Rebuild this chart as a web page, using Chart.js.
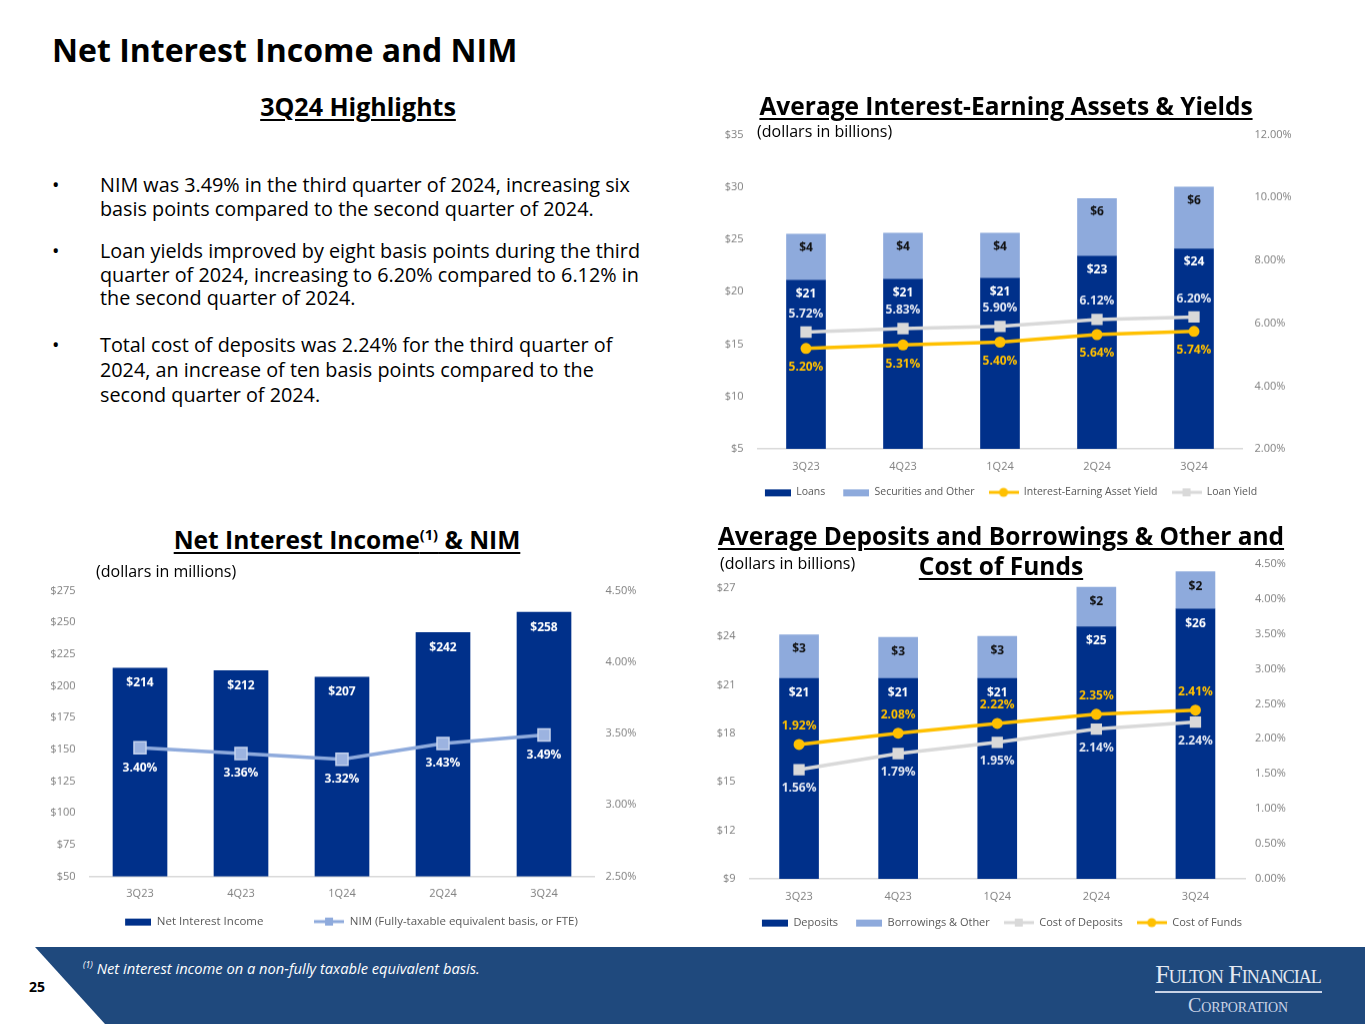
<!DOCTYPE html>
<html>
<head>
<meta charset="utf-8">
<title>Net Interest Income and NIM</title>
<script src="https://cdn.jsdelivr.net/npm/chart.js@4.4.1/dist/chart.umd.min.js"></script>
<style>
  body { margin: 0; width: 1365px; height: 1024px; position: relative; overflow: hidden; background: #fff; font-family: "Open Sans", sans-serif; color: #000; }
  .abs { position: absolute; white-space: nowrap; }
  .box { position: absolute; }
  .head { font-weight: 700; font-size: 24.5px; line-height: 30px; text-decoration: underline; text-underline-offset: 3px; text-decoration-thickness: 2px; transform: translateX(-50%); text-align: center; z-index: 2; }
  .unit { font-size: 16px; line-height: 20px; z-index: 2; }
  .bullet { font-size: 19.8px; line-height: 23.5px; }
  .dot { position: absolute; left: -48px; top: 0; }
  sup { font-size: 60%; line-height: 0; }
</style>
</head>
<body>

<div class="abs" style="left:52px; top:30px; font-size:32px; font-weight:700; line-height:40px;">Net Interest Income and NIM</div>

<div class="abs head" style="left:358px; top:91px; font-size:25px;">3Q24 Highlights</div>

<div class="abs bullet" style="left:100px; top:173px;"><span class="dot">•</span>NIM was 3.49% in the third quarter of 2024, increasing six<br>basis points compared to the second quarter of 2024.</div>
<div class="abs bullet" style="left:100px; top:239px;"><span class="dot">•</span>Loan yields improved by eight basis points during the third<br>quarter of 2024, increasing to 6.20% compared to 6.12% in<br>the second quarter of 2024.</div>
<div class="abs bullet" style="left:100px; top:332px; line-height:25px;"><span class="dot">•</span>Total cost of deposits was 2.24% for the third quarter of<br>2024, an increase of ten basis points compared to the<br>second quarter of 2024.</div>

<div class="abs head" style="left:1006px; top:91px;">Average Interest-Earning Assets &amp; Yields</div>
<div class="abs unit" style="left:757px; top:121px;">(dollars in billions)</div>

<div class="abs head" style="left:347px; top:525px;">Net Interest Income<sup>(1)</sup> &amp; NIM</div>
<div class="abs unit" style="left:96px; top:561px;">(dollars in millions)</div>

<div class="abs head" style="left:1001px; top:521px;">Average Deposits and Borrowings &amp; Other and<br>Cost of Funds</div>
<div class="abs unit" style="left:720px; top:553px;">(dollars in billions)</div>

<div class="box" style="left:700px; top:114.4px; width:600px; height:397.6px;"><canvas id="assetsChart"></canvas></div>
<div class="box" style="left:30px; top:570.4px; width:620px; height:369.6px;"><canvas id="niiChart"></canvas></div>
<div class="box" style="left:700px; top:543.4px; width:600px; height:398.6px;"><canvas id="depositsChart"></canvas></div>

<div class="box" style="left:0; top:947px; width:1365px; height:77px; background:#1f497d; clip-path: polygon(35px 0, 100% 0, 100% 100%, 105px 100%);"></div>
<div class="abs" style="left:29px; top:977px; font-size:14px; font-weight:700; line-height:20px;">25</div>
<div class="abs" style="left:83px; top:958px; font-size:14.7px; font-style:italic; color:#fff; line-height:20px;"><sup>(1)</sup> Net interest income on a non-fully taxable equivalent basis.</div>
<div class="abs" style="left:1238px; top:959px; transform:translateX(-50%); font-family:'Liberation Serif', serif; font-variant:small-caps; font-size:26px; line-height:32px; color:#e4e9f2; letter-spacing:-1px;">Fulton Financial</div>
<div class="box" style="left:1155px; top:991px; width:167px; height:2px; background:#c9d3e6;"></div>
<div class="abs" style="left:1238px; top:994px; transform:translateX(-50%); font-family:'Liberation Serif', serif; font-variant:small-caps; font-size:20px; line-height:22px; color:#c9d3e6; letter-spacing:-0.2px;">Corporation</div>

<script>
  // Quarters shown on every chart
  const quarters = ["3Q23", "4Q23", "1Q24", "2Q24", "3Q24"];

  // Average interest-earning assets ($ billions) and yields (%)
  const loans = [21.1, 21.2, 21.3, 23.4, 24.1];
  const securities = [4.4, 4.4, 4.3, 5.5, 5.9];
  const assetYield = [5.2, 5.31, 5.4, 5.64, 5.74];
  const loanYield = [5.72, 5.83, 5.9, 6.12, 6.2];

  // Net interest income ($ millions) and NIM (%)
  const netInterestIncome = [214, 212, 207, 242, 258];
  const nim = [3.4, 3.36, 3.32, 3.43, 3.49];

  // Average deposits and borrowings ($ billions) and cost of funds (%)
  const deposits = [21.4, 21.4, 21.4, 24.6, 25.7];
  const borrowings = [2.7, 2.55, 2.6, 2.45, 2.3];
  const costOfDeposits = [1.56, 1.79, 1.95, 2.14, 2.24];
  const costOfFunds = [1.92, 2.08, 2.22, 2.35, 2.41];

  // Axis ranges [min, max, step]
  const assetsAxis = [5, 35, 5];
  const assetsRateAxis = [2, 12, 2];
  const niiAxis = [50, 275, 25];
  const nimAxis = [2.5, 4.5, 0.5];
  const depositsAxis = [9, 28.5, 3];
  const fundsRateAxis = [0, 4.5, 0.5];

  const NAVY = "#00308a";
  const LIGHT_BLUE = "#8eaadc";
  const GOLD = "#ffc000";
  const GREY = "#d9d9d9";
  const TICK = "#7f7f7f";

  Chart.defaults.font.family = "'Open Sans', sans-serif";
  Chart.defaults.animation = false;

  const dollars = (v) => "$" + v;
  const pct = (v) => v.toFixed(2) + "%";

  //Value labels drawn on the bars and points
  const valueLabels = {
    id: "valueLabels",
    afterDatasetsDraw(chart) {
      const ctx = chart.ctx;
      chart.data.datasets.forEach((ds, i) => {
        if (!ds.tag) return;
        const meta = chart.getDatasetMeta(i);
        ctx.save();
        ctx.font = "bold 12px 'Open Sans'";
        ctx.fillStyle = ds.tag.color;
        ctx.textAlign = "center";
        ctx.textBaseline = "middle";
        meta.data.forEach((el, j) => {
          ctx.fillText(ds.tag.text(ds.data[j]), el.x, el.y + ds.tag.dy);
        });
        ctx.restore();
      });
    },
  };

  //Legend swatches
  function icon(kind, color) {
    const c = document.createElement("canvas");
    c.width = 30;
    c.height = 12;
    const g = c.getContext("2d");
    g.fillStyle = color;
    g.strokeStyle = color;
    if (kind === "bar") {
      g.fillRect(4, 3, 26, 7);
    } else {
      g.lineWidth = 3;
      g.beginPath();
      g.moveTo(0, 6);
      g.lineTo(30, 6);
      g.stroke();
      if (kind === "circle") {
        g.beginPath();
        g.arc(15, 6, 4.5, 0, Math.PI * 2);
        g.fill();
      } else {
        g.fillRect(11, 2, 8, 8);
      }
    }
    return c;
  }

  // y ticks padding also pushes the plot top down by padding + half a label
  function yAxis(position, range, fmt, width, pad, stacked) {
    return {
      position: position,
      stacked: stacked,
      min: range[0],
      max: range[1],
      grid: { display: false, drawTicks: false },
      border: { display: false },
      ticks: {
        stepSize: range[2],
        includeBounds: false,
        padding: pad,
        color: TICK,
        font: { size: 11 },
        callback: fmt,
      },
      afterFit: (s) => {
        s.width = width;
      },
    };
  }

  function xAxis(height) {
    return {
      stacked: true,
      grid: { display: false, drawTicks: false },
      border: { display: true, color: GREY, width: 1.5 },
      ticks: { padding: 11, color: TICK, font: { size: 11 } },
      afterFit: (s) => {
        s.height = height;
      },
    };
  }

  function legend(pad, size) {
    return {
      position: "bottom",
      labels: {
        usePointStyle: true,
        pointStyleWidth: 30,
        boxHeight: 11,
        padding: pad,
        color: "#595959",
        font: { size: size },
        generateLabels: (chart) =>
          chart.data.datasets.map((ds, i) => ({
            text: ds.legendText || ds.label,
            pointStyle: ds.icon,
            datasetIndex: i,
            fontColor: "#595959",
            fillStyle: "transparent",
            strokeStyle: "transparent",
            lineWidth: 0,
            hidden: false,
          })),
      },
    };
  }

  function barSet(label, data, color, thickness, tag) {
    return {
      type: "bar",
      label: label,
      data: data,
      backgroundColor: color,
      barThickness: thickness,
      yAxisID: "y",
      order: 2,
      icon: icon("bar", color),
      tag: tag,
    };
  }

  function lineSet(label, data, color, style, radius, tag) {
    return {
      type: "line",
      label: label,
      data: data,
      borderColor: color,
      backgroundColor: color,
      borderWidth: 3.5,
      tension: 0,
      pointStyle: style,
      pointRadius: radius,
      pointBorderWidth: 0,
      yAxisID: "y1",
      order: 1,
      icon: icon(style === "rect" ? "square" : "circle", color),
      tag: tag,
    };
  }

  //Average Interest-Earning Assets & Yields
  new Chart(document.getElementById("assetsChart"), {
    data: {
      labels: quarters,
      datasets: [
        barSet("Loans", loans, NAVY, 39, { color: "#fff", dy: 13.5, text: (v) => "$" + Math.round(v) }),
        barSet("Securities and Other", securities, LIGHT_BLUE, 39, { color: "#111", dy: 13.5, text: (v) => "$" + Math.round(v) }),
        lineSet("Interest-Earning Asset Yield", assetYield, GOLD, "circle", 5.5, { color: GOLD, dy: 19, text: pct }),
        lineSet("Loan Yield", loanYield, GREY, "rect", 8, { color: "#e2e7f2", dy: -18, text: pct }),
      ],
    },
    plugins: [valueLabels],
    options: {
      responsive: true,
      maintainAspectRatio: false,
      layout: { autoPadding: false, padding: { top: 0, bottom: 5, left: 18, right: 0 } },
      scales: {
        x: xAxis(24),
        y: yAxis("left", assetsAxis, dollars, 39.5, 14, true),
        y1: yAxis("right", assetsRateAxis, pct, 57.5, 12, false),
      },
      plugins: { legend: legend(14, 10.5), tooltip: { enabled: false } },
    },
  });

  //Net Interest Income & NIM
  const niiSet = barSet("Net Interest Income", netInterestIncome, NAVY, 54, { color: "#fff", dy: 15, text: (v) => "$" + v });
  niiSet.legendText = "Net Interest Income            ";
  const nimSet = lineSet("NIM (Fully-taxable equivalent basis, or FTE)", nim, "#8eaadc", "rect", 8.5, { color: "#fff", dy: 20, text: pct });
  nimSet.pointBorderWidth = 1.5;
  nimSet.pointBorderColor = "#c6d4ee";
  nimSet.backgroundColor = "#9cb3e0";

  new Chart(document.getElementById("niiChart"), {
    data: {
      labels: quarters,
      datasets: [niiSet, nimSet],
    },
    plugins: [valueLabels],
    options: {
      responsive: true,
      maintainAspectRatio: false,
      layout: { autoPadding: false, padding: { top: 0, bottom: 3.25, left: 19, right: 0 } },
      scales: {
        x: xAxis(24.5),
        y: yAxis("left", niiAxis, dollars, 40.5, 14, true),
        y1: yAxis("right", nimAxis, pct, 55.5, 11, false),
      },
      plugins: { legend: legend(14.75, 11.5), tooltip: { enabled: false } },
    },
  });

  //Average Deposits and Borrowings & Other and Cost of Funds
  new Chart(document.getElementById("depositsChart"), {
    data: {
      labels: quarters,
      datasets: [
        barSet("Deposits", deposits, NAVY, 39, { color: "#fff", dy: 14.5, text: (v) => "$" + Math.round(v) }),
        barSet("Borrowings & Other", borrowings, LIGHT_BLUE, 39, { color: "#111", dy: 14.5, text: (v) => "$" + Math.round(v) }),
        lineSet("Cost of Deposits", costOfDeposits, GREY, "rect", 8, { color: "#e2e7f2", dy: 19, text: pct }),
        lineSet("Cost of Funds", costOfFunds, GOLD, "circle", 5.5, { color: GOLD, dy: -18, text: pct }),
      ],
    },
    plugins: [valueLabels],
    options: {
      responsive: true,
      maintainAspectRatio: false,
      layout: { autoPadding: false, padding: { top: 0, bottom: 4.5, left: 0, right: 0 } },
      scales: {
        x: xAxis(24),
        y: yAxis("left", depositsAxis, dollars, 49.5, 14, true),
        y1: yAxis("right", fundsRateAxis, pct, 55, 10, false),
      },
      plugins: { legend: legend(14, 11), tooltip: { enabled: false } },
    },
  });
</script>
</body>
</html>
